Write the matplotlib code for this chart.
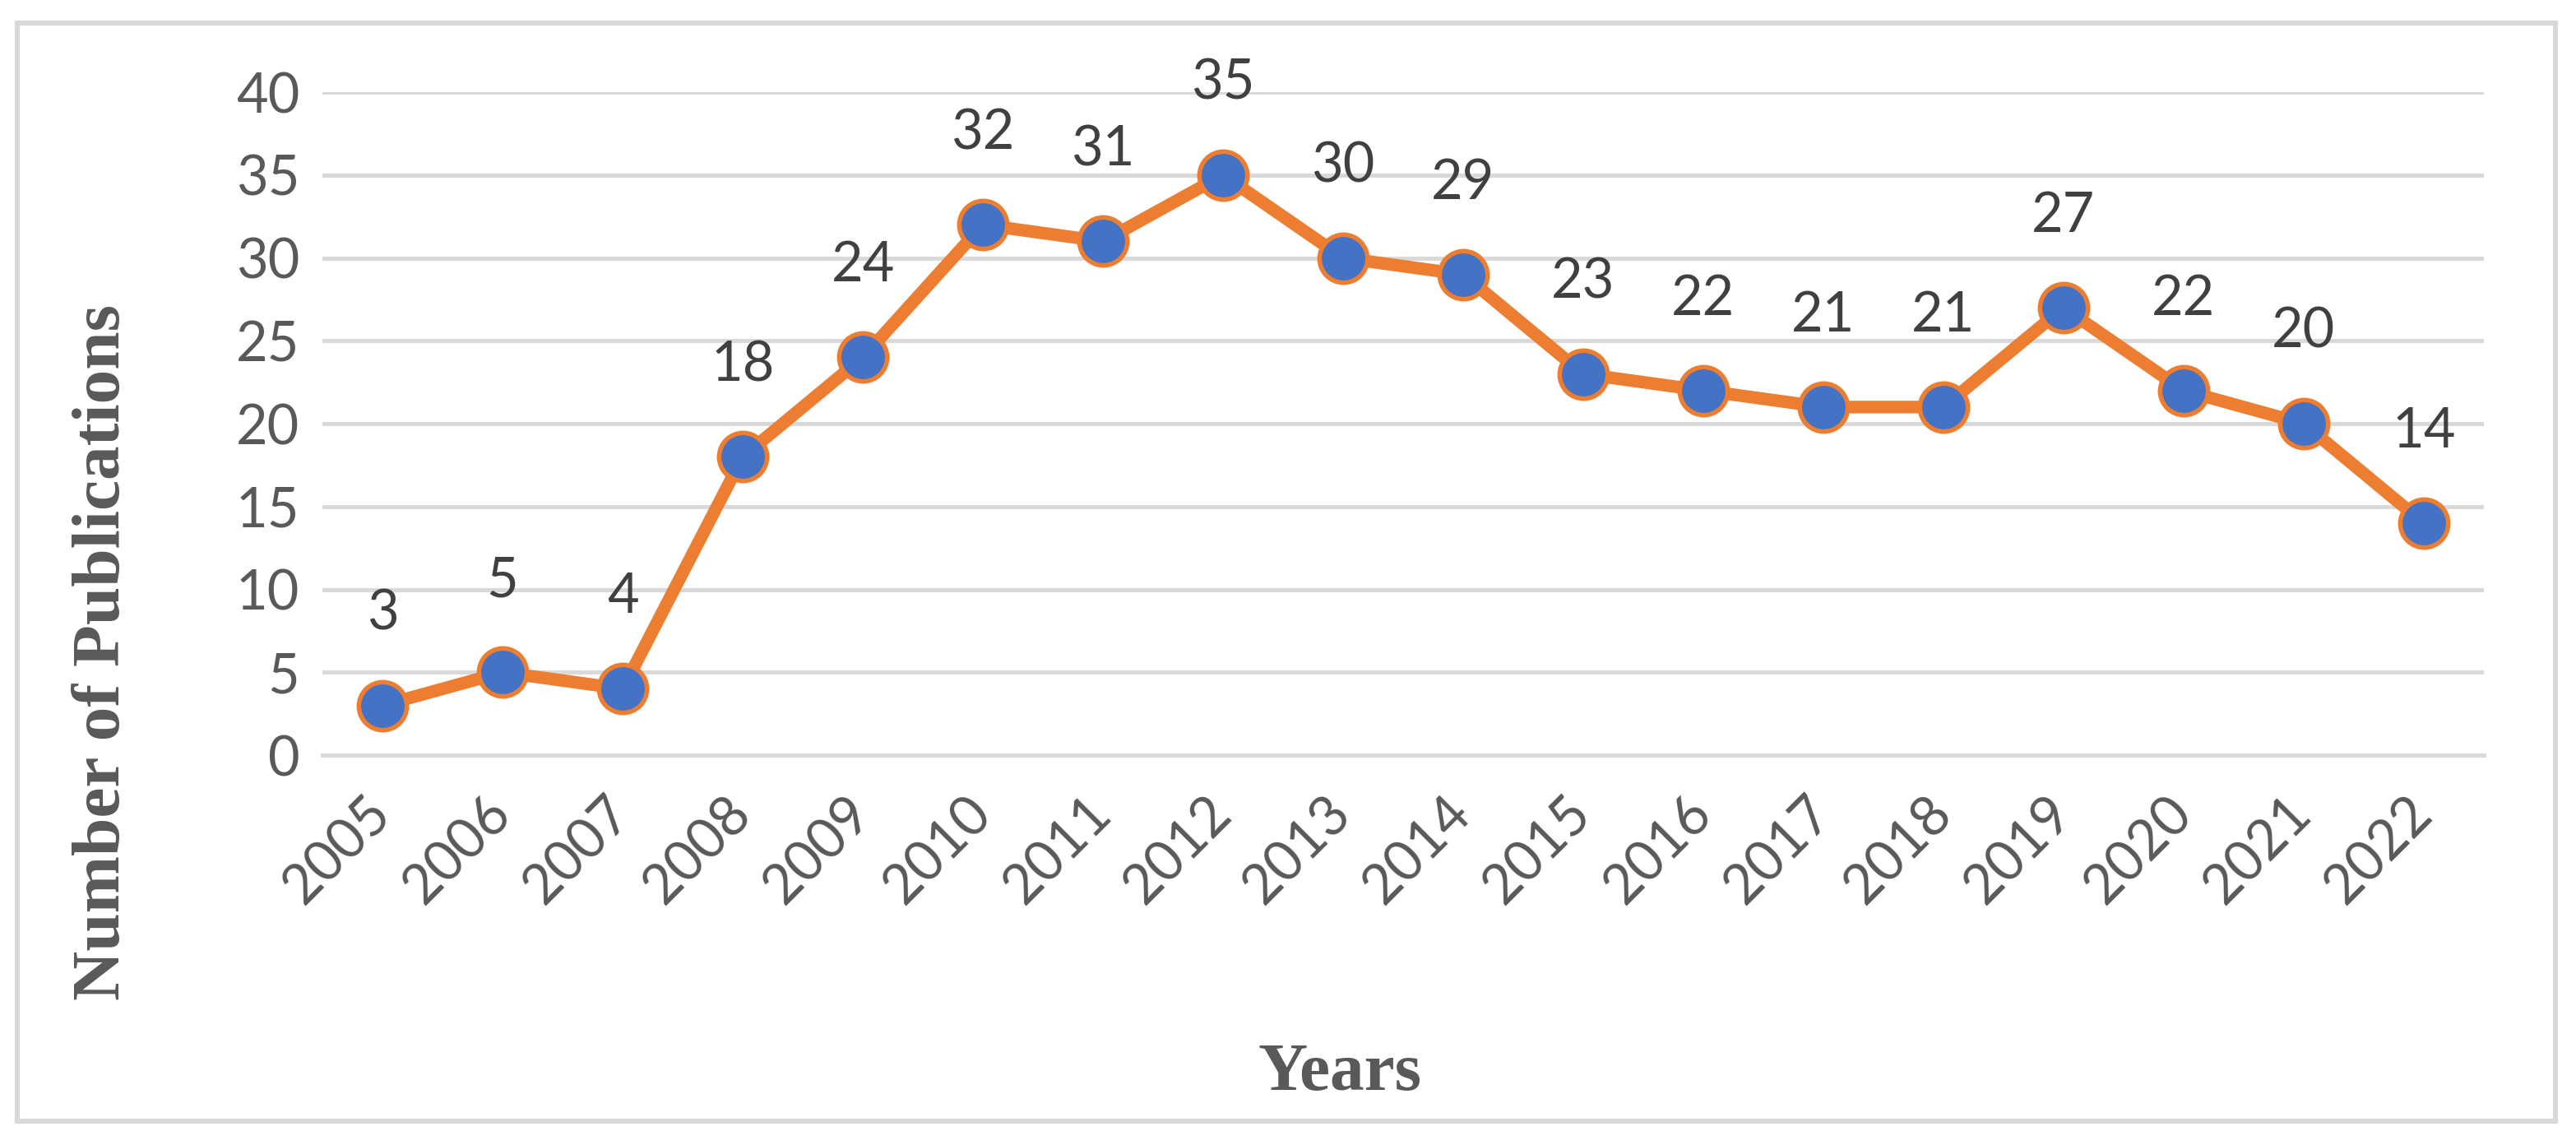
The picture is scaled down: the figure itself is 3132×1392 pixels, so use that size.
import matplotlib
matplotlib.use("Agg")
import matplotlib.pyplot as plt
from matplotlib.patches import Rectangle

years = ["2005", "2006", "2007", "2008", "2009", "2010", "2011", "2012", "2013",
         "2014", "2015", "2016", "2017", "2018", "2019", "2020", "2021", "2022"]
publications = [3, 5, 4, 18, 24, 32, 31, 35, 30, 29, 23, 22, 21, 21, 27, 22, 20, 14]
y_ticks = [0, 5, 10, 15, 20, 25, 30, 35, 40]

TICK_FONT = "Lato"
GRID = "#D9D9D9"

fig = plt.figure(figsize=(15.66, 6.96), dpi=200)
ax = fig.add_axes([0.1252, 0.3405, 0.9642 - 0.1252, 0.9195 - 0.3405])

x = list(range(len(years)))
ax.plot(x, publications, color="#ED7D31", linewidth=5.5, marker="o",
        markersize=21, markerfacecolor="#4472C4", markeredgecolor="#ED7D31",
        markeredgewidth=2.0, zorder=3, solid_joinstyle="round")

for xi, v in zip(x, publications):
    ax.annotate(str(v), (xi, v), xytext=(0, 40), textcoords="offset points",
                ha="center", va="center", fontsize=24, color="#404040",
                family=TICK_FONT)

ax.set_xlim(-0.5, len(years) - 0.5)
ax.set_ylim(0, 40)
ax.set_yticks(y_ticks)
ax.set_yticklabels([str(t) for t in y_ticks], fontsize=24, color="#595959",
                   family=TICK_FONT)
ax.set_xticks(x)
ax.set_xticklabels(years, fontsize=24, color="#595959", family=TICK_FONT,
                   rotation=45, ha="right", va="center", rotation_mode="anchor")
ax.tick_params(axis="y", length=0, pad=10)
ax.tick_params(axis="x", length=0, pad=22)
ax.grid(axis="y", color=GRID, linewidth=1.8)
ax.set_axisbelow(True)
for s in ["top", "right", "left"]:
    ax.spines[s].set_visible(False)
ax.spines["bottom"].set_color(GRID)
ax.spines["bottom"].set_linewidth(1.8)

fig.text(0.520, 0.0625, "Years", ha="center", va="center", fontsize=30,
         fontweight="bold", family="Liberation Serif", color="#595959")
fig.text(0.040, 0.43, "Number of Publications", ha="center", va="center",
         rotation=90, fontsize=30, fontweight="bold", family="Liberation Serif",
         color="#595959")

border = Rectangle((0.0067, 0.0208), 0.992 - 0.0067, 0.98 - 0.0208,
                   transform=fig.transFigure, fill=False, edgecolor=GRID,
                   linewidth=2.2)
fig.patches.append(border)

fig.savefig("out.png", dpi=200)
